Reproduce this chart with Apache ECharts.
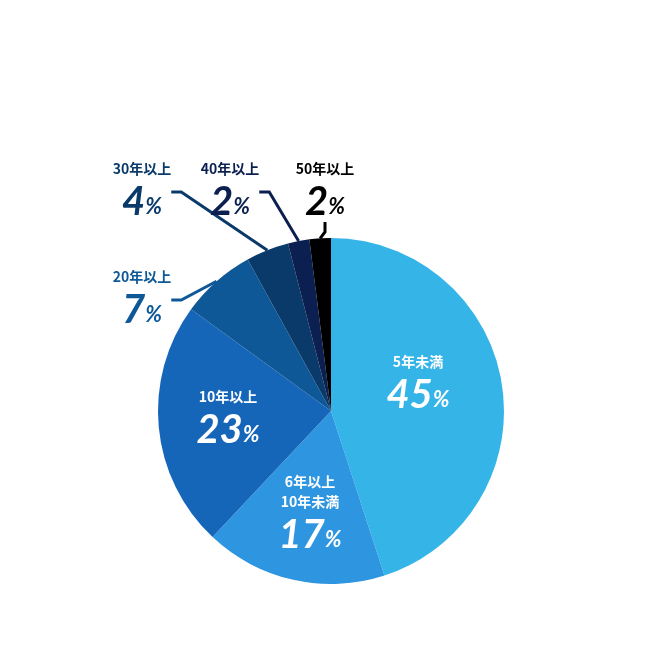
<!DOCTYPE html>
<html><head><meta charset="utf-8">
<script src="https://cdn.jsdelivr.net/npm/echarts@6/dist/echarts.min.js"></script>
<style>html,body{margin:0;padding:0;background:#fff}#c{width:672px;height:666px}</style>
</head><body><div id="c"></div>
<script>
const categories=['5年未満','6年以上\n10年未満','10年以上','20年以上','30年以上','40年以上','50年以上'];
const values=[45,17,23,7,4,2,2];
const colors=['#35b4e8','#2e95e0','#1565b8','#0e5898','#0a3a6a','#0b1f50','#000000'];
const labelPos=[[418,385],[310,515],[228,420],[142,300],[142,192],[230,192],[325,192]];
const textColors=['#fff','#fff','#fff','#0e5898','#0a3a6a','#0b1f50','#000'];
const chart=echarts.init(document.getElementById('c'));
chart.setOption({
  animation:false,
  series:[{
    type:'pie',center:[331,411],radius:[0,173],startAngle:90,clockwise:true,
    itemStyle:{borderColor:'#fff',borderWidth:0},
    labelLine:{show:true,length:10,length2:10,lineStyle:{width:3}},
    labelLayout:function(p){return {x:labelPos[p.dataIndex][0],y:labelPos[p.dataIndex][1],align:'center',verticalAlign:'middle'};},
    data:values.map((v,i)=>({
      value:v,name:categories[i],
      itemStyle:{color:colors[i]},
      label:{show:true,position:i<3?'inside':'outside',color:textColors[i],
        formatter:'{a|{b}}\n{p|{c}}{s|%}',
        rich:{
          a:{fontSize:14,fontWeight:'bold',lineHeight:20,color:textColors[i],fontFamily:'Noto Sans CJK JP'},
          p:{fontSize:40,fontWeight:'bold',fontStyle:'italic',color:textColors[i],fontFamily:'Lato',lineHeight:46},
          s:{fontSize:22,fontWeight:'bold',fontStyle:'italic',color:textColors[i],fontFamily:'Lato',padding:[10,0,0,0]}
        }},
      labelLine:{show:i>=3,lineStyle:{color:textColors[i],width:3}}
    }))
  }]
});
</script></body></html>
